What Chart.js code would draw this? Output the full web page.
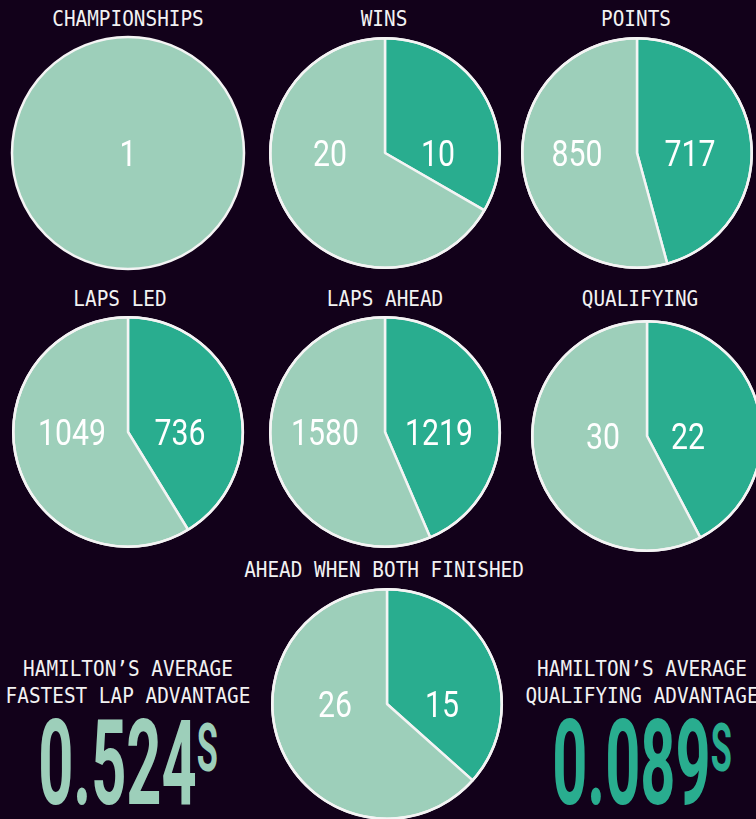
<!DOCTYPE html>
<html>
<head>
<meta charset="utf-8">
<script src="https://cdn.jsdelivr.net/npm/chart.js@4.4.0/dist/chart.umd.min.js"></script>
<style>
  html, body { margin: 0; padding: 0; }
  body { width: 756px; height: 819px; background: #12011a; position: relative; overflow: hidden; }
  .pie { position: absolute; width: 240px; height: 240px; }
  .ttl { position: absolute; color: #f2f2f2; font-family: "DejaVu Sans Mono", monospace; font-size: 22px; line-height: 1;
         white-space: nowrap; transform: translate(-50%, -50%) scaleX(0.88); }
  .big { position: absolute; font-family: Roboto, sans-serif; font-weight: 700; font-size: 118px; line-height: 1;
         white-space: nowrap; transform: translateX(-50%) scaleX(0.52); }
  .big span { font-size: 66px; vertical-align: 33px; }
</style>
</head>
<body>
<div id="stage"></div>
<script>
// pie data: dark slice (Hamilton) first, light slice second
const titles = ["CHAMPIONSHIPS", "WINS", "POINTS", "LAPS LED", "LAPS AHEAD", "QUALIFYING", "AHEAD WHEN BOTH FINISHED"];
const darkValues = [0, 10, 717, 736, 1219, 22, 15];
const lightValues = [1, 20, 850, 1049, 1580, 30, 26];

const statLines = [["HAMILTON\u2019S AVERAGE", "FASTEST LAP ADVANTAGE"], ["HAMILTON\u2019S AVERAGE", "QUALIFYING ADVANTAGE"]];
const statValues = ["0.524", "0.089"];

const DARK = "#29ad8f";
const LIGHT = "#9dcfba";

// layout
const pieCenters = [[128, 153], [385, 153], [637, 153], [128, 432], [385, 432], [647, 436], [387, 704]];
const labelOffsets = [[0, 0], [-55, 53], [-60, 53], [-56, 52], [-60, 54], [-44, 41], [-52, 55]];
const titlePos = [[128, 19], [384, 19], [636, 19], [120, 299], [385, 299], [640, 299], [384, 570]];
const statPos = [[128, 669], [642, 669]];
const statColors = [LIGHT, DARK];

const stage = document.getElementById("stage");

const pieLabels = {
    id: "pieLabels",
    afterDatasetsDraw(chart, args, opts) {
        const ctx = chart.ctx;
        const arc = chart.getDatasetMeta(0).data[1];
        const { x, y, outerRadius } = arc;
        const vals = chart.data.datasets[0].data;
        const off = opts.offsets;
        ctx.save();
        // outer white ring
        ctx.strokeStyle = "#f4f4f4";
        ctx.lineWidth = 2.5;
        ctx.beginPath();
        ctx.arc(x, y, outerRadius, 0, Math.PI * 2);
        ctx.stroke();
        ctx.fillStyle = "#ffffff";
        ctx.font = "400 36px Roboto";
        ctx.textAlign = "center";
        ctx.textBaseline = "alphabetic";
        const put = (txt, px) => {
            ctx.save();
            ctx.translate(px, y + 13);
            ctx.scale(0.84, 1);
            ctx.fillText(txt, 0, 0);
            ctx.restore();
        };
        if (vals[0] === 0) {
            put(String(vals[1]), x);
        } else {
            put(String(vals[1]), x + off[0]);
            put(String(vals[0]), x + off[1]);
        }
        ctx.restore();
    },
};

titles.forEach((t, i) => {
    const [cx, cy] = pieCenters[i];
    const box = document.createElement("div");
    box.className = "pie";
    box.style.left = (cx - 120) + "px";
    box.style.top = (cy - 120) + "px";
    const cv = document.createElement("canvas");
    cv.width = 240;
    cv.height = 240;
    box.appendChild(cv);
    stage.appendChild(box);

    new Chart(cv.getContext("2d"), {
        type: "pie",
        data: {
            labels: ["Hamilton", "Other"],
            datasets: [{
                data: [darkValues[i], lightValues[i]],
                backgroundColor: [DARK, LIGHT],
                borderColor: "#f4f4f4",
                borderWidth: darkValues[i] === 0 ? 0 : 2.5,
            }],
        },
        options: {
            responsive: false,
            animation: false,
            layout: { padding: 4 },
            plugins: {
                legend: { display: false },
                tooltip: { enabled: false },
                pieLabels: { offsets: labelOffsets[i] },
            },
        },
        plugins: [pieLabels],
    });

    const tt = document.createElement("div");
    tt.className = "ttl";
    tt.textContent = t;
    tt.style.left = titlePos[i][0] + "px";
    tt.style.top = titlePos[i][1] + "px";
    stage.appendChild(tt);
});

statLines.forEach((lines, i) => {
    const [sx, sy] = statPos[i];
    lines.forEach((ln, j) => {
        const d = document.createElement("div");
        d.className = "ttl";
        d.textContent = ln;
        d.style.left = sx + "px";
        d.style.top = (sy + j * 27) + "px";
        stage.appendChild(d);
    });
    const b = document.createElement("div");
    b.className = "big";
    b.style.left = sx + "px";
    b.style.top = "705px";
    b.style.color = statColors[i];
    b.innerHTML = statValues[i] + "<span>S</span>";
    stage.appendChild(b);
});
</script>
</body>
</html>
